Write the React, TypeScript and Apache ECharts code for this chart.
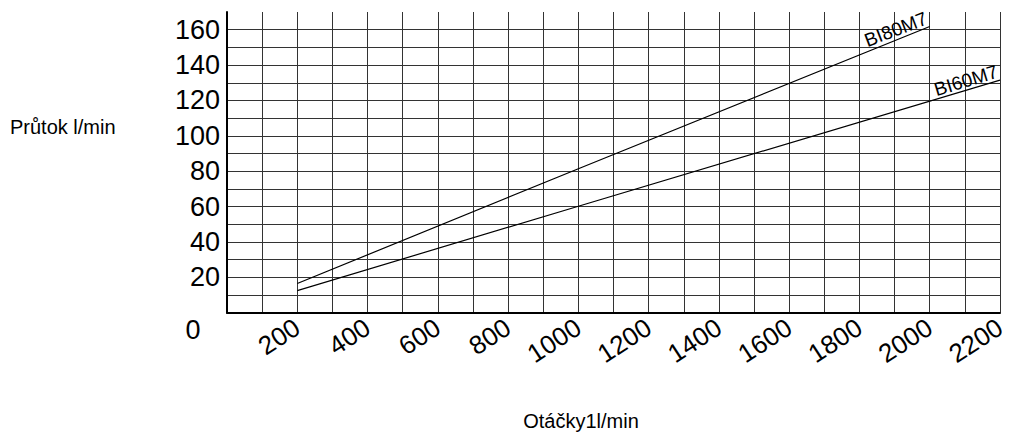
import React, { useEffect, useRef } from "react";
import * as echarts from "echarts";

const xTickValues = [200, 400, 600, 800, 1000, 1200, 1400, 1600, 1800, 2000, 2200];
const yTickValues = [20, 40, 60, 80, 100, 120, 140, 160];

const seriesNames = ["BI80M7", "BI60M7"];
const rpmBI80 = [200, 1000, 2000];
const flowBI80 = [16.5, 81.4, 161.8];
const rpmBI60 = [200, 1000, 2200];
const flowBI60 = [12.5, 60.2, 131.5];

const yAxisTitle = "Průtok l/min";
const xAxisTitle = "Otáčky1l/min";

const FONT = "'Liberation Sans', Arial, Helvetica, sans-serif";

function buildData(xs: number[], ys: number[], name: string, rot: number) {
  return xs.map((x, i) => {
    const item: any = { value: [x, ys[i]] };
    if (i === xs.length - 1) {
      item.label = {
        show: true,
        formatter: name,
        position: [0, 0],
        align: "right",
        verticalAlign: "bottom",
        rotate: rot,
        color: "#000",
        fontSize: 19,
        fontFamily: FONT,
      };
    }
    return item;
  });
}

export default function App() {
  const ref = useRef<HTMLDivElement>(null);
  useEffect(() => {
    if (!ref.current) return;
    const chart = echarts.init(ref.current, undefined, { renderer: "svg" });
    const ySplitColors: string[] = [];
    for (let v = 0; v <= 170; v += 10) ySplitColors.push(v === 170 ? "transparent" : "#333");
    chart.setOption({
      animation: false,
      backgroundColor: "#fff",
      grid: { left: 227, top: 12, width: 773, height: 300.7 },
      xAxis: {
        type: "value",
        min: 0,
        max: 2200,
        interval: 100,
        axisLine: { show: true, lineStyle: { color: "#000", width: 2 } },
        axisTick: { show: false },
        splitLine: { show: true, lineStyle: { color: "#333", width: 1 } },
        axisLabel: {
          rotate: 33,
          margin: 12,
          fontSize: 26,
          color: "#000",
          fontFamily: FONT,
          formatter: (v: number) => (xTickValues.includes(v) ? String(v) : ""),
        },
      },
      yAxis: {
        type: "value",
        min: 0,
        max: 170,
        interval: 10,
        axisLine: { show: true, lineStyle: { color: "#000", width: 2 } },
        axisTick: { show: false },
        splitLine: { show: true, lineStyle: { color: ySplitColors, width: 1 } },
        axisLabel: {
          margin: 7,
          fontSize: 27,
          color: "#000",
          fontFamily: FONT,
          formatter: (v: number) => (yTickValues.includes(v) ? String(v) : ""),
        },
      },
      graphic: [
        {
          type: "text",
          x: 193,
          y: 330,
          style: { text: "0", fontSize: 27, fontFamily: FONT, fill: "#000", textAlign: "center", textVerticalAlign: "middle" },
        },
        {
          type: "text",
          x: 10,
          y: 127,
          style: { text: yAxisTitle, fontSize: 20, fontFamily: FONT, fill: "#000", textAlign: "left", textVerticalAlign: "middle" },
        },
        {
          type: "text",
          x: 581,
          y: 421,
          style: { text: xAxisTitle, fontSize: 20, fontFamily: FONT, fill: "#000", textAlign: "center", textVerticalAlign: "middle" },
        },
      ],
      series: [
        {
          name: seriesNames[0],
          type: "line",
          data: buildData(rpmBI80, flowBI80, seriesNames[0], 21),
          symbol: "circle",
          symbolSize: 0.01,
          showSymbol: true,
          lineStyle: { color: "#000", width: 1.2 },
          itemStyle: { color: "#000" },
        },
        {
          name: seriesNames[1],
          type: "line",
          data: buildData(rpmBI60, flowBI60, seriesNames[1], 17),
          symbol: "circle",
          symbolSize: 0.01,
          showSymbol: true,
          lineStyle: { color: "#000", width: 1.2 },
          itemStyle: { color: "#000" },
        },
      ],
    });
    return () => chart.dispose();
  }, []);
  return (
    <div
      ref={ref}
      style={{ position: "fixed", left: 0, top: 0, width: 1011, height: 432 }}
    />
  );
}
